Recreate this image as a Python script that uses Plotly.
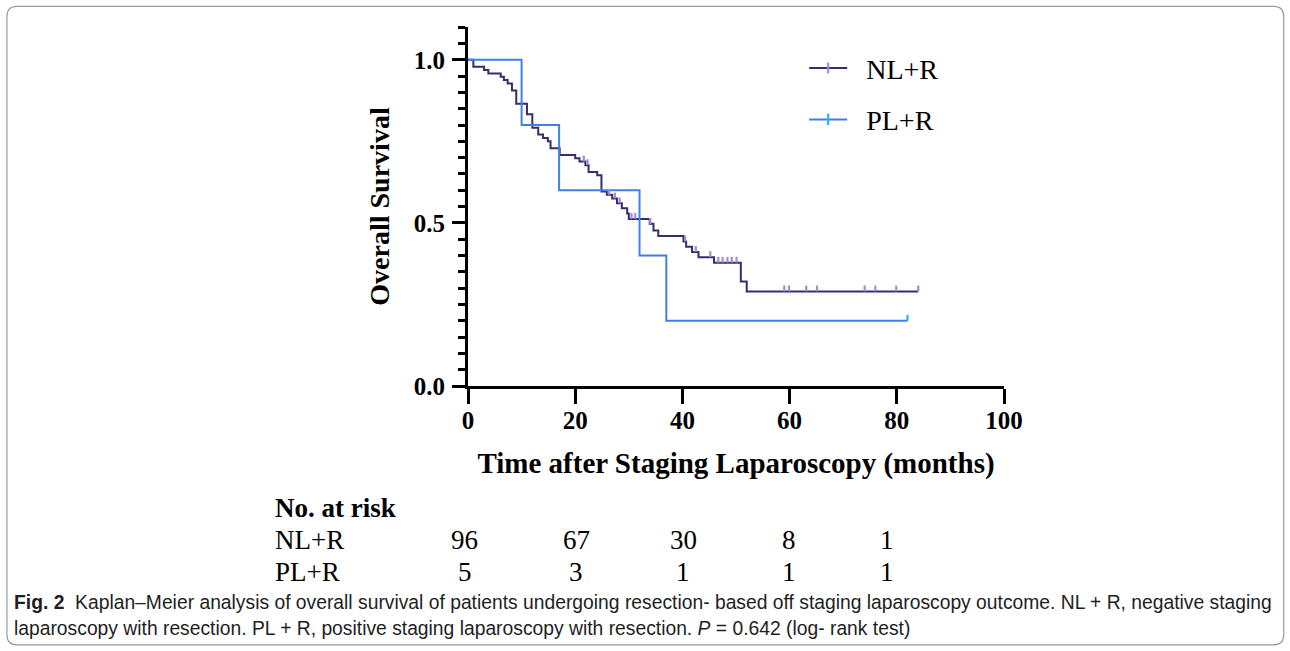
import numpy as np
import plotly.graph_objects as go

# ---------------- data ----------------
nl_time = [0, 1.0, 3.0, 3.8, 6.1, 6.7, 7.4, 8.2, 9.0, 11.0, 12.0, 13.1, 14.0, 14.9, 15.4,
           17.1, 20.0, 20.8, 21.9, 22.5, 24.1, 24.9, 25.9, 26.9, 27.8, 28.7, 29.7, 30.0,
           33.9, 34.6, 35.5, 40.2, 40.7, 41.8, 43.0, 45.9, 50.9, 52.0, 84.0]
nl_surv = [1.0, 0.979, 0.969, 0.958, 0.948, 0.938, 0.927, 0.906, 0.865, 0.833, 0.792, 0.771,
           0.760, 0.750, 0.729, 0.708, 0.698, 0.688, 0.677, 0.656, 0.646, 0.596, 0.586, 0.575,
           0.560, 0.545, 0.529, 0.512, 0.497, 0.477, 0.460, 0.443, 0.427, 0.411, 0.395, 0.378,
           0.320, 0.290, 0.290]
nl_censor = [21.6, 22.3, 26.3, 27.4, 28.3, 30.5, 31.2, 34.0, 40.5, 42.5, 45.2, 46.7, 47.5,
             48.4, 49.2, 50.1, 59.0, 59.9, 63.1, 65.1, 74.0, 76.0, 79.9, 84.0]

pl_time = [0, 10, 17, 32, 37, 82]
pl_surv = [1.0, 0.8, 0.6, 0.4, 0.2, 0.2]
pl_censor = [82]

risk_times = [0, 20, 40, 60, 80]
risk_nl = [96, 67, 30, 8, 1]
risk_pl = [5, 3, 1, 1, 1]

x_ticks = [0, 20, 40, 60, 80, 100]
y_ticks = [0.0, 0.5, 1.0]
y_tick_text = ["0.0", "0.5", "1.0"]

NL_LINE = "#3b2a6c"
NL_CENS = "#a48bd4"
PL_LINE = "#3f7fe6"
PL_CENS = "#22b5f2"


def surv_at(times, surv, t):
    idx = np.searchsorted(np.array(times), t, side="right") - 1
    return [surv[i] for i in idx]


fig = go.Figure()

fig.add_trace(go.Scatter(x=nl_time, y=nl_surv, mode="lines", line=dict(color=NL_LINE, width=2, shape="hv"),
                         showlegend=False, hoverinfo="skip"))
fig.add_trace(go.Scatter(x=pl_time, y=pl_surv, mode="lines", line=dict(color=PL_LINE, width=2, shape="hv"),
                         showlegend=False, hoverinfo="skip"))

tick_h = 0.018
for cens, times, surv, col in [(nl_censor, nl_time, nl_surv, NL_CENS), (pl_censor, pl_time, pl_surv, PL_CENS)]:
    n = len(cens)
    fig.add_trace(go.Scatter(
        x=cens, y=surv_at(times, surv, cens), mode="markers",
        marker=dict(size=1, color="rgba(0,0,0,0)"),
        error_y=dict(type="data", symmetric=False, array=[tick_h] * n, arrayminus=[0] * n,
                     width=0, thickness=2.2, color=col),
        showlegend=False, hoverinfo="skip"))

# legend-only entries
for name, lc, mc, grp in [("NL+R", NL_LINE, NL_CENS, "a"), ("PL+R", PL_LINE, PL_CENS, "b")]:
    fig.add_trace(go.Scatter(x=[None], y=[None], mode="lines+markers", name="\u00a0\u00a0" + name,
                             legendgroup=grp, line=dict(color=lc, width=2),
                             marker=dict(symbol="line-ns", size=8, line=dict(color=mc, width=2.2))))

# ---------------- layout ----------------
W, H = 1290, 651
L, R, T, B = 467.5, 1004.0, 26.7, 386.0


def px(xp):
    return (xp - L) / (R - L)


def py(yp):
    return (B - yp) / (B - T)


serif = "Liberation Serif"
sans = "Liberation Sans Narrow, Liberation Sans, Arial"

fig.update_layout(
    width=W, height=H,
    margin=dict(l=L, r=W - R, t=T, b=H - B, pad=0),
    paper_bgcolor="white", plot_bgcolor="white",
    font=dict(family=serif, color="black"),
    legend=dict(x=px(804), y=py(43), xanchor="left", yanchor="top",
                font=dict(family=serif, size=28, color="black"), itemwidth=38,
                tracegroupgap=12, traceorder="grouped", bgcolor="rgba(0,0,0,0)"),
    xaxis=dict(range=[0, 100], tickvals=x_ticks, ticktext=[str(v) for v in x_ticks],
               showline=True, linecolor="black", linewidth=3, ticks="outside", ticklen=15, tickwidth=3,
               tickcolor="black", showgrid=False, zeroline=False, ticklabelstandoff=-5,
               tickfont=dict(family=serif, size=25, color="black", weight="bold"),
               title=dict(text="<b>Time after Staging Laparoscopy (months)</b>", standoff=20,
                          font=dict(family=serif, size=29, color="black"))),
    yaxis=dict(range=[0, 1.1005], tickvals=y_ticks, ticktext=y_tick_text,
               showline=True, linecolor="black", linewidth=3, ticks="outside", ticklen=13, tickwidth=3,
               tickcolor="black", showgrid=False, zeroline=False, ticklabelstandoff=2,
               minor=dict(dtick=0.05, tick0=0, ticks="outside", ticklen=7, tickwidth=2.5, tickcolor="black",
                          showgrid=False),
               tickfont=dict(family=serif, size=25, color="black", weight="bold"),
               title=dict(text="<b>Overall Survival</b>", standoff=16,
                          font=dict(family=serif, size=28, color="black"))),
)

table_x = [-0.6, 20.2, 40.2, 59.9, 78.1]  # column centres of the at-risk table (x-axis units)
ann = []
ann.append(dict(text="<b>No. at risk</b>", x=px(272), y=py(508), xref="paper", yref="paper",
                xanchor="left", yanchor="middle", showarrow=False,
                font=dict(family=serif, size=27, color="black")))
for label, vals, yy in [("NL+R", risk_nl, 540), ("PL+R", risk_pl, 572)]:
    ann.append(dict(text=label, x=px(272), y=py(yy), xref="paper", yref="paper",
                    xanchor="left", yanchor="middle", showarrow=False,
                    font=dict(family=serif, size=27, color="black")))
    for cx, v in zip(table_x, vals):
        ann.append(dict(text=str(v), x=cx / 100.0, y=py(yy), xref="paper", yref="paper",
                        xanchor="center", yanchor="middle", showarrow=False,
                        font=dict(family=serif, size=27, color="black")))

cap1 = ("<b>Fig. 2</b>  Kaplan–Meier analysis of overall survival of patients undergoing resection- based off "
        "staging laparoscopy outcome. NL + R, negative staging")
cap2 = ("laparoscopy with resection. PL + R, positive staging laparoscopy with resection. "
        "<i>P</i> = 0.642 (log- rank test)")
for txt, yy in [(cap1, 603), (cap2, 629)]:
    ann.append(dict(text=txt, x=px(11), y=py(yy), xref="paper", yref="paper", xanchor="left",
                    yanchor="middle", showarrow=False, font=dict(family=sans, size=19.3, color="#1e1e1e")))
fig.update_layout(annotations=ann)

# rounded frame around the figure
x0, x1, y0, y1, r = px(6), px(1284), py(6), py(645), 10
rx, ry = r / (R - L), r / (B - T)
path = (f"M {x0 + rx},{y0} L {x1 - rx},{y0} Q {x1},{y0} {x1},{y0 - ry} L {x1},{y1 + ry} "
        f"Q {x1},{y1} {x1 - rx},{y1} L {x0 + rx},{y1} Q {x0},{y1} {x0},{y1 + ry} L {x0},{y0 - ry} "
        f"Q {x0},{y0} {x0 + rx},{y0} Z")
fig.add_shape(type="path", path=path, xref="paper", yref="paper", line=dict(color="#9a9a9a", width=1.2),
              layer="below")

fig.write_html("out.html", config={"displayModeBar": False},
               post_script="document.body.style.margin='0';")
